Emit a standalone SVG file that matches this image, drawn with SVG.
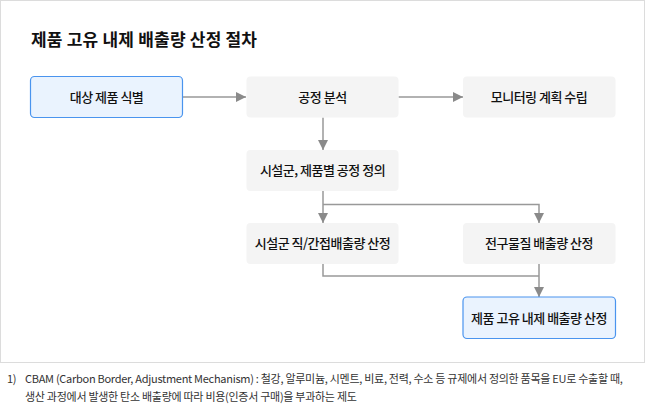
<svg xmlns="http://www.w3.org/2000/svg" width="646" height="408" viewBox="0 0 646 408">
<style>
.frame{fill:#fff;stroke:#dcdcdc;stroke-width:1}
.title{font-family:"Noto Sans CJK KR","Noto Sans",sans-serif;font-size:17px;font-weight:700;fill:#111;letter-spacing:0.2px}
.blue{fill:#eaf3fe;stroke:#4a94ee;stroke-width:1.2}
.gray{fill:#f4f4f4;stroke:none}
.lbl{font-family:"Noto Sans CJK KR","Noto Sans",sans-serif;font-size:13px;font-weight:500;fill:#111;text-anchor:middle;letter-spacing:-0.5px}
.con{fill:none;stroke:#999;stroke-width:1.5}
.note{font-family:"Noto Sans CJK KR","Noto Sans",sans-serif;font-size:11px;fill:#333;letter-spacing:-0.28px}
</style>
<defs>
<marker id="ah" markerUnits="userSpaceOnUse" markerWidth="10" markerHeight="10" refX="10" refY="5" orient="auto">
<path d="M0,0 L10,5 L0,10 Z" fill="#8a8a8a"/>
</marker>
</defs>
<rect class="frame" x="0.5" y="0.5" width="644" height="362"/>
<text class="title" x="31" y="46">제품 고유 내제 배출량 산정 절차</text>
<g id="connectors">
<path class="con" d="M182.5,97 H246" marker-end="url(#ah)"/>
<path class="con" d="M398.5,97 H463" marker-end="url(#ah)"/>
<path class="con" d="M323,117.5 V150" marker-end="url(#ah)"/>
<path class="con" d="M323,191 V223" marker-end="url(#ah)"/>
<path class="con" d="M323,204.5 H539 V223" marker-end="url(#ah)"/>
<path class="con" d="M323,264 V276 H539"/>
<path class="con" d="M539,264 V297" marker-end="url(#ah)"/>
</g>
<g id="n1"><rect class="blue" x="30.5" y="76.5" width="152" height="41" rx="4"/><text class="lbl" x="106.5" y="101.5">대상 제품 식별</text></g>
<g id="n2"><rect class="gray" x="246.5" y="76.5" width="152" height="41" rx="4"/><text class="lbl" x="322.5" y="101.5">공정 분석</text></g>
<g id="n3"><rect class="gray" x="463" y="76.5" width="152.5" height="41" rx="4"/><text class="lbl" x="539" y="101.5">모니터링 계획 수립</text></g>
<g id="n4"><rect class="gray" x="246.5" y="150" width="152" height="41" rx="4"/><text class="lbl" x="322.5" y="175">시설군, 제품별 공정 정의</text></g>
<g id="n5"><rect class="gray" x="246.5" y="223" width="152" height="41" rx="4"/><text class="lbl" x="322.5" y="248">시설군 직/간접배출량 산정</text></g>
<g id="n6"><rect class="gray" x="463" y="223" width="152.5" height="41" rx="4"/><text class="lbl" x="539" y="248">전구물질 배출량 산정</text></g>
<g id="n7"><rect class="blue" x="463" y="297" width="152.5" height="41.5" rx="4"/><text class="lbl" x="539" y="322.5">제품 고유 내제 배출량 산정</text></g>
<text class="note" x="7" y="383">1)</text>
<text class="note" x="25" y="383">CBAM (Carbon Border, Adjustment Mechanism) : 철강, 알루미늄, 시멘트, 비료, 전력, 수소 등 규제에서 정의한 품목을 EU로 수출할 때,</text>
<text class="note" x="25" y="401">생산 과정에서 발생한 탄소 배출량에 따라 비용(인증서 구매)을 부과하는 제도</text>
</svg>
